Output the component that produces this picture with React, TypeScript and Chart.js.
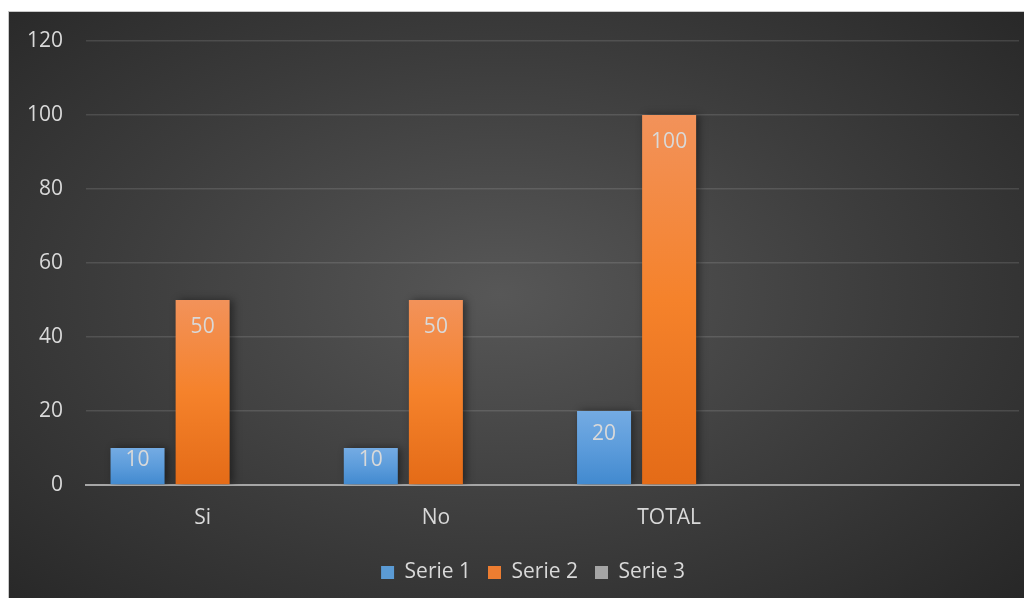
import React, { useEffect, useRef } from "react";
import { Chart, registerables } from "chart.js";

Chart.register(...registerables);

const categories = ["Si", "No", "TOTAL", ""];
const serie1 = [10, 10, 20, null];
const serie2 = [50, 50, 100, null];
const serie3 = [null, null, null, null];
const seriesNames = ["Serie 1", "Serie 2", "Serie 3"];
const yMax = 120;
const yStep = 20;

const FONT = "'Open Sans', 'Noto Sans', sans-serif";
const TEXT = "#d9d9d9";
const FS = 21;

function gradientFill(stops: string[], solid: string) {
  return (ctx: any) => {
    const chart = ctx.chart;
    const v = ctx.raw;
    if (!chart.chartArea || v == null || !chart.scales || !chart.scales.y) return solid;
    const y = chart.scales.y;
    const top = y.getPixelForValue(v);
    const bottom = y.getPixelForValue(0);
    if (!isFinite(top) || !isFinite(bottom) || top === bottom) return solid;
    const g = chart.ctx.createLinearGradient(0, top, 0, bottom);
    g.addColorStop(0, stops[0]);
    g.addColorStop(0.5, stops[1]);
    g.addColorStop(1, stops[2]);
    return g;
  };
}

const legendColors = ["#5b9bd5", "#ed7d31", "#a5a5a5"];

const shadowPlugin = {
  id: "barShadow",
  beforeDatasetsDraw(chart: any) {
    const c = chart.ctx;
    c.save();
    c.shadowColor = "rgba(0,0,0,0.45)";
    c.shadowBlur = 8;
    c.shadowOffsetX = 3;
    c.shadowOffsetY = 0;
  },
  afterDatasetsDraw(chart: any) {
    chart.ctx.restore();
  },
};

const legendShift = {
  id: "legendShift",
  afterLayout(chart: any) {
    const lg = chart.legend;
    if (lg) {
      lg.left += 19;
      lg.right += 19;
    }
  },
};

const labelPlugin = {
  id: "insideLabels",
  afterDraw(chart: any) {
    const c = chart.ctx;
    c.save();
    c.font = `${FS}px ${FONT}`;
    c.fillStyle = TEXT;
    c.textAlign = "center";
    c.textBaseline = "middle";
    chart.data.datasets.forEach((ds: any, di: number) => {
      const meta = chart.getDatasetMeta(di);
      meta.data.forEach((bar: any, i: number) => {
        const v = ds.data[i];
        if (v == null) return;
        const h = bar.base - bar.y;
        const off = Math.min(27, h * 0.32);
        c.fillText(String(v), bar.x, bar.y + off);
      });
    });
    c.restore();
  },
};

export default function App() {
  const ref = useRef<HTMLCanvasElement>(null);
  useEffect(() => {
    if (!ref.current) return;
    const chart = new Chart(ref.current, {
      type: "bar",
      data: {
        labels: categories,
        datasets: [
          {
            label: seriesNames[0],
            data: serie1,
            backgroundColor: gradientFill(["#74abe3", "#5c9cdb", "#4189cf"], legendColors[0]),
            borderWidth: 0,
          },
          {
            label: seriesNames[1],
            data: serie2,
            backgroundColor: gradientFill(["#f2925a", "#f5822b", "#e46b17"], legendColors[1]),
            borderWidth: 0,
          },
          {
            label: seriesNames[2],
            data: serie3,
            backgroundColor: legendColors[2],
            borderWidth: 0,
          },
        ],
      },
      options: {
        animation: false,
        responsive: true,
        maintainAspectRatio: false,
        datasets: {
          bar: { categoryPercentage: 0.837, barPercentage: 0.83 },
        } as any,
        layout: { padding: { top: 29, right: 13, left: 0, bottom: 8 } },
        plugins: {
          legend: {
            position: "bottom",
            labels: {
              color: TEXT,
              font: { family: FONT, size: FS },
              boxWidth: 13,
              boxHeight: 13,
              padding: 17,
              generateLabels: () =>
                seriesNames.map((n, i) => ({
                  text: n,
                  fillStyle: legendColors[i],
                  strokeStyle: legendColors[i],
                  lineWidth: 0,
                  fontColor: TEXT,
                  datasetIndex: i,
                  hidden: false,
                })),
            },
          },
          tooltip: { enabled: false },
        },
        scales: {
          x: {
            grid: { display: false, drawTicks: false },
            border: { display: true, color: "#a6a6a6", width: 2 },
            ticks: { color: TEXT, font: { family: FONT, size: FS }, padding: 20 },
            afterFit: (s: any) => {
              s.height = 60;
            },
          },
          y: {
            min: 0,
            max: yMax,
            ticks: {
              stepSize: yStep,
              color: TEXT,
              font: { family: FONT, size: FS, lineHeight: 0.5 },
              padding: 23,
            },
            grid: {
              color: (c: any) => (c.tick && c.tick.value === 0 ? "rgba(0,0,0,0)" : "rgba(255,255,255,0.12)"),
              lineWidth: 1.5,
              drawTicks: false,
            },
            border: { display: false },
            afterFit: (s: any) => {
              s.width = 77;
            },
          },
        },
      },
      plugins: [shadowPlugin, labelPlugin, legendShift],
    });
    return () => chart.destroy();
  }, []);

  return (
    <div
      style={{
        position: "relative",
        top: 3,
        width: 1024,
        height: 590,
        boxSizing: "border-box",
        borderTop: "1px solid #c8c8c8",
        borderLeft: "1px solid #c8c8c8",
        background: "radial-gradient(ellipse 70% 75% at 48% 48%, #575757 0%, #3c3c3c 55%, #272727 100%)",
      }}
    >
      <canvas ref={ref} style={{ display: "block" }} />
    </div>
  );
}
